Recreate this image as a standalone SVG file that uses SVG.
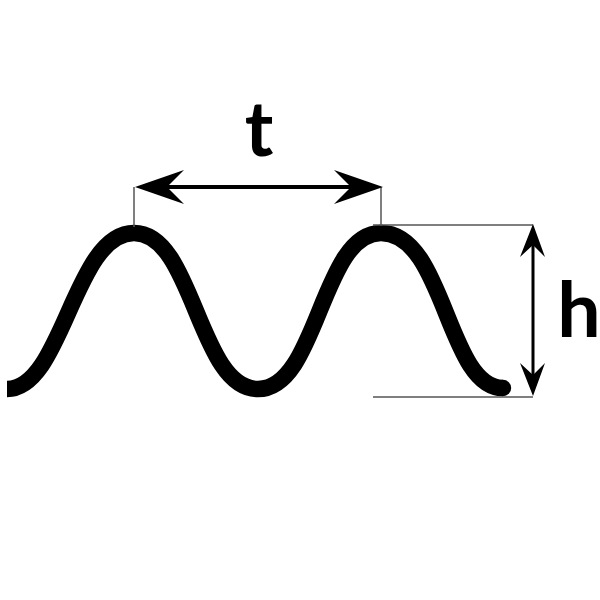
<svg xmlns="http://www.w3.org/2000/svg" width="600" height="600" viewBox="0 0 600 600">
<style>
.wave{fill:none;stroke:#000;stroke-width:16.5}
.ext{fill:none;stroke:#555;stroke-width:1.5}
.dim{fill:none;stroke:#000;stroke-width:4}
.dimv{fill:none;stroke:#000;stroke-width:3}
.head{fill:#000}
.lbl{font-family:"Lato","Liberation Sans",sans-serif;font-weight:700;font-size:77px;fill:#000;text-anchor:middle}
</style>
<rect width="600" height="600" fill="#fff"/>
<g id="wave">
<path class="wave" d="M7 389 C63 389 74 233 134 233 C194 233 198 389 258 389 C318 389 321 233 381 233 C445 233 447 388 503 388"/>
<circle cx="503" cy="388" r="8.2" fill="#000"/>
</g>
<g id="connectors">
<path class="ext" d="M134 187V227M381 187V226M373 225H533M373 397H533"/>
<path class="dim" d="M160 187H358"/>
<path class="dimv" d="M533 240V380"/>
<path class="head" d="M135 187L184 170L167 187L184 204Z"/>
<path class="head" d="M383 187L334 170L351 187L334 204Z"/>
<path class="head" d="M533 224L520 257L533 245L545 257Z"/>
<path class="head" d="M533 396L520 363L533 375L545 363Z"/>
</g>
<g id="label-t"><text class="lbl" x="259" y="156">t</text></g>
<g id="label-h"><text class="lbl" x="579" y="337">h</text></g>
</svg>
